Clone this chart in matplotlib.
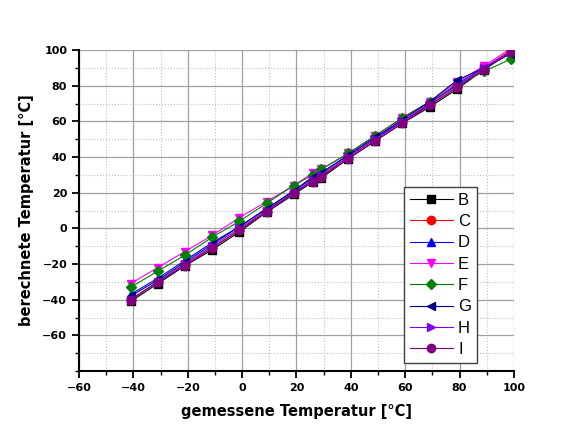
import numpy as np
import matplotlib
matplotlib.use('Agg')
import matplotlib.pyplot as plt
from matplotlib.ticker import MultipleLocator

plt.rcParams['font.family'] = ['Liberation Sans', 'DejaVu Sans']

# gemessene Temperatur (x) fuer alle Sensoren
x = [-41, -31, -21, -11, -1, 9, 19, 26, 29, 39, 49, 59, 69, 79, 89, 99]

# berechnete Temperatur je Sensor
B = [-41, -31, -21, -12, -2, 9, 19, 26, 28, 39, 49, 59, 68, 78, 89, 99]
C = [-40, -30, -20, -11, -1, 10, 20, 27, 29, 40, 50, 60, 69, 79, 90, 100]
D = [-37, -28, -18, -8, 1, 11, 21, 28, 31, 41, 51, 60, 70, 81, 90, 99]
E = [-31, -22, -13, -4, 6, 15, 24, 31, 33, 42, 52, 62, 71, 82, 91, 101]
F = [-33, -24, -15, -5, 4, 14, 24, 30, 33, 42, 52, 62, 71, 80, 88, 95]
G = [-38, -29, -19, -9, 1, 11, 21, 29, 31, 41, 51, 61, 71, 83, 90, 98]
H = [-40, -30, -20, -10, 0, 10, 20, 27, 30, 40, 50, 60, 70, 80, 90, 99]
I = [-40, -30, -21, -11, -1, 9, 20, 26, 29, 39, 49, 59, 69, 79, 89, 99]

names = ['B', 'C', 'D', 'E', 'F', 'G', 'H', 'I']
series = [B, C, D, E, F, G, H, I]
colors = ['#000000', '#ff0000', '#0000ff', '#ff00ff', '#008000', '#000080', '#8000ff', '#800080']
markers = ['s', 'o', '^', 'v', 'D', '<', '>', 'o']

fig = plt.figure(figsize=(5.7, 4.45), dpi=100)
ax = fig.add_axes([0.1386, 0.1663, 0.763, 0.7213])

for name, y, c, m in zip(names, series, colors, markers):
    ms = 6 if m != 'D' else 5
    ax.plot(x, y, color=c, lw=0.8, marker=m, ms=ms, mfc=c, mec=c, label=name)

ax.set_xlim(-60, 100)
ax.set_ylim(-80, 100)
ax.xaxis.set_major_locator(MultipleLocator(20))
ax.xaxis.set_minor_locator(MultipleLocator(10))
ax.yaxis.set_major_locator(MultipleLocator(20))
ax.yaxis.set_minor_locator(MultipleLocator(10))
ax.set_yticks([-60, -40, -20, 0, 20, 40, 60, 80, 100])

ax.grid(which='major', color='#a0a0a0', lw=0.9, ls='-')
ax.grid(which='minor', color='#c0c0c0', lw=0.8, ls=':')
ax.set_axisbelow(True)

for s in ['top', 'right']:
    ax.spines[s].set_visible(False)
for s in ['left', 'bottom']:
    ax.spines[s].set_linewidth(1.5)

ax.tick_params(which='major', direction='out', length=5, width=1.3, labelsize=8)
ax.tick_params(which='minor', direction='out', length=3, width=1.0)
for lab in ax.get_xticklabels() + ax.get_yticklabels():
    lab.set_fontweight('bold')
    lab.set_family('DejaVu Sans')

ax.set_xlabel('gemessene Temperatur [°C]', fontsize=10.5, fontweight='bold',
              family='DejaVu Sans', labelpad=8)
ax.set_ylabel('berechnete Temperatur [°C]', fontsize=10.5, fontweight='bold',
              family='DejaVu Sans', labelpad=6)

leg = ax.legend(loc='lower left', bbox_to_anchor=(0.747, 0.025), fontsize=12,
                frameon=True, fancybox=False, handlelength=2.6, labelspacing=0.38,
                borderpad=0.35, handletextpad=0.3, borderaxespad=0)
leg.get_frame().set_edgecolor('#404040')
leg.get_frame().set_linewidth(1.0)
leg.get_frame().set_alpha(1)

fig.savefig('out.png', dpi=100)
